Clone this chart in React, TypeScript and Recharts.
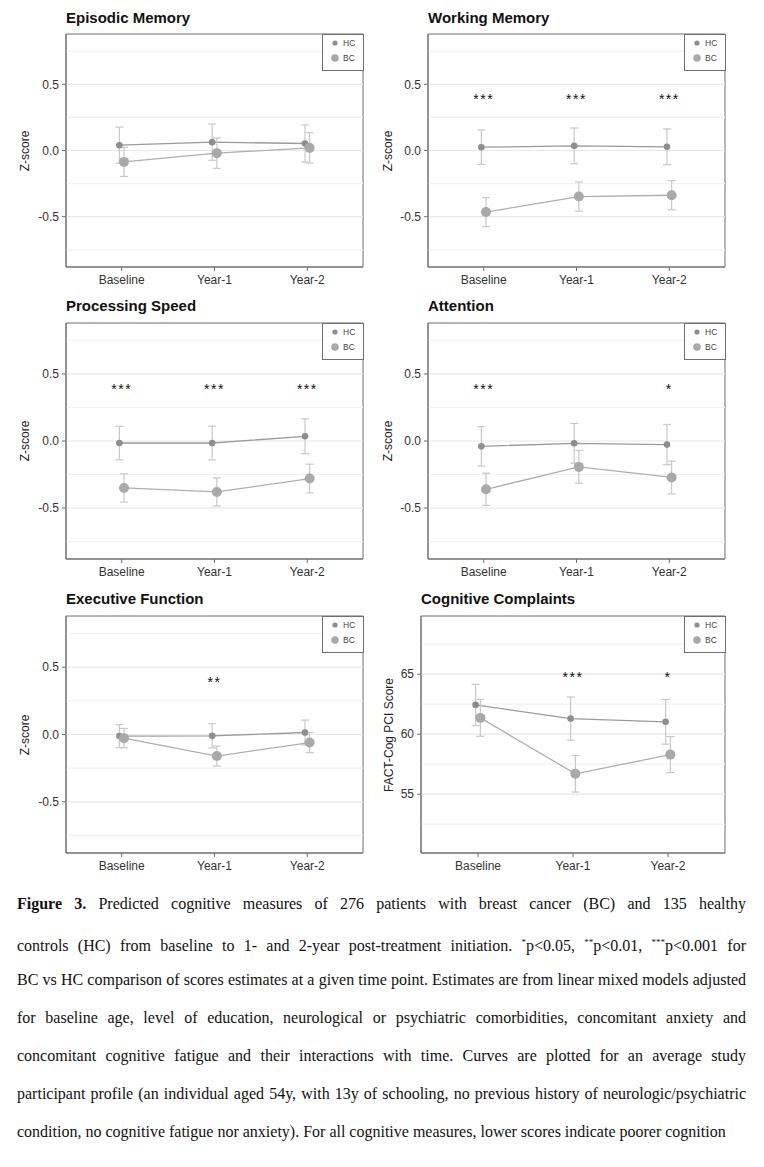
import React from 'react'
import {
  ComposedChart,
  Line,
  Scatter,
  XAxis,
  YAxis,
  ErrorBar,
  ReferenceLine,
  ReferenceArea,
} from 'recharts'

// time points on the x axis
const timepoints = ['Baseline', 'Year-1', 'Year-2']

// Episodic Memory
const episodicHC = [0.04, 0.063, 0.053]
const episodicHCErr = [0.137, 0.137, 0.14]
const episodicBC = [-0.086, -0.02, 0.02]
const episodicBCErr = [0.11, 0.115, 0.115]
const episodicStars = ['', '', '']

// Working Memory
const workingHC = [0.025, 0.035, 0.028]
const workingHCErr = [0.13, 0.135, 0.135]
const workingBC = [-0.465, -0.348, -0.338]
const workingBCErr = [0.11, 0.11, 0.11]
const workingStars = ['***', '***', '***']

// Processing Speed
const speedHC = [-0.015, -0.015, 0.035]
const speedHCErr = [0.125, 0.126, 0.13]
const speedBC = [-0.35, -0.38, -0.28]
const speedBCErr = [0.105, 0.105, 0.107]
const speedStars = ['***', '***', '***']

// Attention
const attentionHC = [-0.04, -0.017, -0.027]
const attentionHCErr = [0.147, 0.148, 0.15]
const attentionBC = [-0.36, -0.193, -0.272]
const attentionBCErr = [0.12, 0.122, 0.122]
const attentionStars = ['***', '', '*']

// Executive Function
const execHC = [-0.012, -0.01, 0.015]
const execHCErr = [0.085, 0.09, 0.092]
const execBC = [-0.027, -0.16, -0.06]
const execBCErr = [0.072, 0.074, 0.075]
const execStars = ['', '**', '']

// Cognitive Complaints (FACT-Cog PCI)
const complaintsHC = [62.44, 61.3, 61.03]
const complaintsHCErr = [1.72, 1.8, 1.86]
const complaintsBC = [61.36, 56.7, 58.3]
const complaintsBCErr = [1.54, 1.52, 1.5]
const complaintsStars = ['', '***', '*']

const zTicks = [-0.5, 0, 0.5]
const zGrid = [-0.75, -0.5, -0.25, 0, 0.25, 0.5, 0.75]
const pciTicks = [55, 60, 65]
const pciGrid = [52.5, 55, 57.5, 60, 62.5, 65, 67.5]

const FONT = '"Liberation Sans", Arial, Helvetica, sans-serif'
const HC_DOT = '#8e8e8e'
const BC_DOT = '#a9a9a9'
const HC_LINE = '#9b9b9b'
const BC_LINE = '#afafaf'
const ERR = '#c9c9c9'
const FRAME = '#6f6f6f'

const X_DOMAIN: [number, number] = [0.4, 3.6]
const DODGE = 0.025
const Y_W = 40
const X_H = 24

type Box = {
  cellLeft: number
  top: number
  titleY: number
  plotLeft: number
  plotRight: number
  plotTop: number
  plotBottom: number
  yLabelX: number
}

type PanelProps = {
  title: string
  yLabel: string
  hc: number[]
  hcErr: number[]
  bc: number[]
  bcErr: number[]
  stars: string[]
  starY: number
  domain: [number, number]
  ticks: number[]
  grid: number[]
  fmt: (v: number) => string
  box: Box
}

const toPoints = (vals: number[], errs: number[], shift: number) =>
  vals.map((y, i) => ({ x: i + 1 + shift, y, err: errs[i] }))

function StarShape(props: any) {
  const { cx, cy, payload } = props
  return (
    <text
      x={cx}
      y={cy + 8}
      textAnchor="middle"
      fontSize={14}
      fontFamily={FONT}
      fill="#111"
      letterSpacing={1.5}
    >
      {payload.label}
    </text>
  )
}

function LegendBox() {
  return (
    <svg width={42} height={37} style={{ display: 'block' }}>
      <rect x={0.5} y={0.5} width={41} height={36} fill="#fff" stroke={FRAME} />
      <circle cx={13} cy={9} r={2.6} fill={HC_DOT} />
      <text x={21} y={12} fontSize={8.5} fontFamily={FONT} fill="#444">
        HC
      </text>
      <circle cx={13} cy={24} r={3.8} fill={BC_DOT} />
      <text x={21} y={27} fontSize={8.5} fontFamily={FONT} fill="#444">
        BC
      </text>
    </svg>
  )
}

function Panel(p: PanelProps) {
  const b = p.box
  const width = 382
  const height = b.plotBottom - b.top + X_H + 4
  const hcData = toPoints(p.hc, p.hcErr, -DODGE)
  const bcData = toPoints(p.bc, p.bcErr, DODGE)
  const starData = p.stars
    .map((label, i) => ({ x: i + 1, y: p.starY, label }))
    .filter((d) => d.label !== '')

  return (
    <>
      <div
        style={{
          position: 'absolute',
          left: b.plotLeft,
          top: b.titleY - 9,
          fontFamily: FONT,
          fontWeight: 700,
          fontSize: 15,
          lineHeight: '18px',
          color: '#111',
          whiteSpace: 'nowrap',
        }}
      >
        {p.title}
      </div>
      <div
        style={{
          position: 'absolute',
          left: b.yLabelX,
          top: (b.plotTop + b.plotBottom) / 2,
          transform: 'translate(-50%, -50%) rotate(-90deg)',
          fontFamily: FONT,
          fontSize: 12,
          color: '#222',
          whiteSpace: 'nowrap',
        }}
      >
        {p.yLabel}
      </div>
      <div style={{ position: 'absolute', left: b.cellLeft, top: b.top }}>
        <ComposedChart
          width={width}
          height={height}
          margin={{
            top: b.plotTop - b.top,
            left: b.plotLeft - b.cellLeft - Y_W,
            right: b.cellLeft + width - b.plotRight,
            bottom: 4,
          }}
        >
          <XAxis
            type="number"
            dataKey="x"
            domain={X_DOMAIN}
            ticks={[1, 2, 3]}
            allowDataOverflow
            tickFormatter={(v: number) => timepoints[v - 1]}
            height={X_H}
            tickSize={4}
            tickMargin={4}
            stroke={FRAME}
            tick={{ fill: '#333', fontSize: 12, fontFamily: FONT }}
          />
          <YAxis
            type="number"
            domain={p.domain}
            ticks={p.ticks}
            allowDataOverflow
            tickFormatter={p.fmt}
            width={Y_W}
            tickSize={4}
            tickMargin={3}
            stroke={FRAME}
            tick={{ fill: '#333', fontSize: 12, fontFamily: FONT }}
          />
          {p.grid.map((g) => (
            <ReferenceLine
              key={g}
              y={g}
              stroke={p.ticks.includes(g) ? '#e8e8e8' : '#f1f1f1'}
              strokeWidth={1.2}
            />
          ))}
          <ReferenceArea
            x1={X_DOMAIN[0]}
            x2={X_DOMAIN[1]}
            y1={p.domain[0]}
            y2={p.domain[1]}
            fill="none"
            stroke={FRAME}
            ifOverflow="visible"
          />
          <Line
            data={hcData}
            dataKey="y"
            name="HC"
            stroke={HC_LINE}
            strokeWidth={1.3}
            dot={{ r: 3.3, fill: HC_DOT, stroke: 'none' }}
            isAnimationActive={false}
          >
            <ErrorBar dataKey="err" width={4} stroke={ERR} strokeWidth={1.2} direction="y" />
          </Line>
          <Line
            data={bcData}
            dataKey="y"
            name="BC"
            stroke={BC_LINE}
            strokeWidth={1.3}
            dot={{ r: 5, fill: BC_DOT, stroke: 'none' }}
            isAnimationActive={false}
          >
            <ErrorBar dataKey="err" width={4} stroke={ERR} strokeWidth={1.2} direction="y" />
          </Line>
          <Scatter data={starData} dataKey="y" shape={StarShape} isAnimationActive={false} />
        </ComposedChart>
      </div>
      <div style={{ position: 'absolute', left: b.plotRight - 41.5, top: b.plotTop - 0.5 }}>
        <LegendBox />
      </div>
    </>
  )
}

const zFmt = (v: number) => v.toFixed(1)
const pciFmt = (v: number) => String(v)

const leftCol = { cellLeft: 0, plotLeft: 66, plotRight: 363, yLabelX: 25 }
const rightCol = { cellLeft: 382, plotLeft: 428, plotRight: 725, yLabelX: 388 }
const row1 = { top: 0, titleY: 18, plotTop: 34, plotBottom: 267 }
const row2 = { top: 290, titleY: 306, plotTop: 323, plotBottom: 559 }
const row3 = { top: 582, titleY: 599, plotTop: 616, plotBottom: 853 }

const capLines: React.ReactNode[] = [
  <>
    <b>Figure 3.</b> Predicted cognitive measures of 276 patients with breast cancer (BC) and 135 healthy
  </>,
  <>
    controls (HC) from baseline to 1- and 2-year post-treatment initiation. <sup style={{ fontSize: 9 }}>*</sup>p&lt;0.05,{' '}
    <sup style={{ fontSize: 9 }}>**</sup>p&lt;0.01, <sup style={{ fontSize: 9 }}>***</sup>p&lt;0.001 for
  </>,
  <>BC vs HC comparison of scores estimates at a given time point. Estimates are from linear mixed models adjusted</>,
  <>
    for baseline age, level of education, neurological or psychiatric comorbidities, concomitant anxiety and
  </>,
  <>concomitant cognitive fatigue and their interactions with time. Curves are plotted for an average study</>,
  <>
    participant profile (an individual aged 54y, with 13y of schooling, no previous history of neurologic/psychiatric
  </>,
  <>condition, no cognitive fatigue nor anxiety). For all cognitive measures, lower scores indicate poorer cognition</>,
]

export default function App() {
  return (
    <div
      style={{
        position: 'absolute',
        left: 0,
        top: 0,
        width: 764,
        height: 1167,
        background: '#fff',
        overflow: 'hidden',
      }}
    >
      <Panel
        title="Episodic Memory"
        yLabel="Z-score"
        hc={episodicHC}
        hcErr={episodicHCErr}
        bc={episodicBC}
        bcErr={episodicBCErr}
        stars={episodicStars}
        starY={0.41}
        domain={[-0.88, 0.88]}
        ticks={zTicks}
        grid={zGrid}
        fmt={zFmt}
        box={{ ...leftCol, ...row1 }}
      />
      <Panel
        title="Working Memory"
        yLabel="Z-score"
        hc={workingHC}
        hcErr={workingHCErr}
        bc={workingBC}
        bcErr={workingBCErr}
        stars={workingStars}
        starY={0.41}
        domain={[-0.88, 0.88]}
        ticks={zTicks}
        grid={zGrid}
        fmt={zFmt}
        box={{ ...rightCol, ...row1 }}
      />
      <Panel
        title="Processing Speed"
        yLabel="Z-score"
        hc={speedHC}
        hcErr={speedHCErr}
        bc={speedBC}
        bcErr={speedBCErr}
        stars={speedStars}
        starY={0.41}
        domain={[-0.88, 0.88]}
        ticks={zTicks}
        grid={zGrid}
        fmt={zFmt}
        box={{ ...leftCol, ...row2 }}
      />
      <Panel
        title="Attention"
        yLabel="Z-score"
        hc={attentionHC}
        hcErr={attentionHCErr}
        bc={attentionBC}
        bcErr={attentionBCErr}
        stars={attentionStars}
        starY={0.41}
        domain={[-0.88, 0.88]}
        ticks={zTicks}
        grid={zGrid}
        fmt={zFmt}
        box={{ ...rightCol, ...row2 }}
      />
      <Panel
        title="Executive Function"
        yLabel="Z-score"
        hc={execHC}
        hcErr={execHCErr}
        bc={execBC}
        bcErr={execBCErr}
        stars={execStars}
        starY={0.41}
        domain={[-0.88, 0.88]}
        ticks={zTicks}
        grid={zGrid}
        fmt={zFmt}
        box={{ ...leftCol, ...row3 }}
      />
      <Panel
        title="Cognitive Complaints"
        yLabel="FACT-Cog PCI Score"
        hc={complaintsHC}
        hcErr={complaintsHCErr}
        bc={complaintsBC}
        bcErr={complaintsBCErr}
        stars={complaintsStars}
        starY={65}
        domain={[50.1, 69.85]}
        ticks={pciTicks}
        grid={pciGrid}
        fmt={pciFmt}
        box={{ ...rightCol, cellLeft: 382, plotLeft: 421, yLabelX: 389, ...row3 }}
      />
      <div
        style={{
          position: 'absolute',
          left: 17,
          top: 893,
          width: 729,
          fontFamily: '"Liberation Serif", "Times New Roman", serif',
          fontSize: 16,
          color: '#111',
        }}
      >
        {capLines.map((ln, i) => (
          <div
            key={i}
            style={{
              height: 38,
              lineHeight: '22px',
              whiteSpace: 'nowrap',
              textAlign: 'justify',
              textAlignLast: i === capLines.length - 1 ? 'left' : 'justify',
              letterSpacing: 0,
            }}
          >
            {ln}
          </div>
        ))}
      </div>
    </div>
  )
}
